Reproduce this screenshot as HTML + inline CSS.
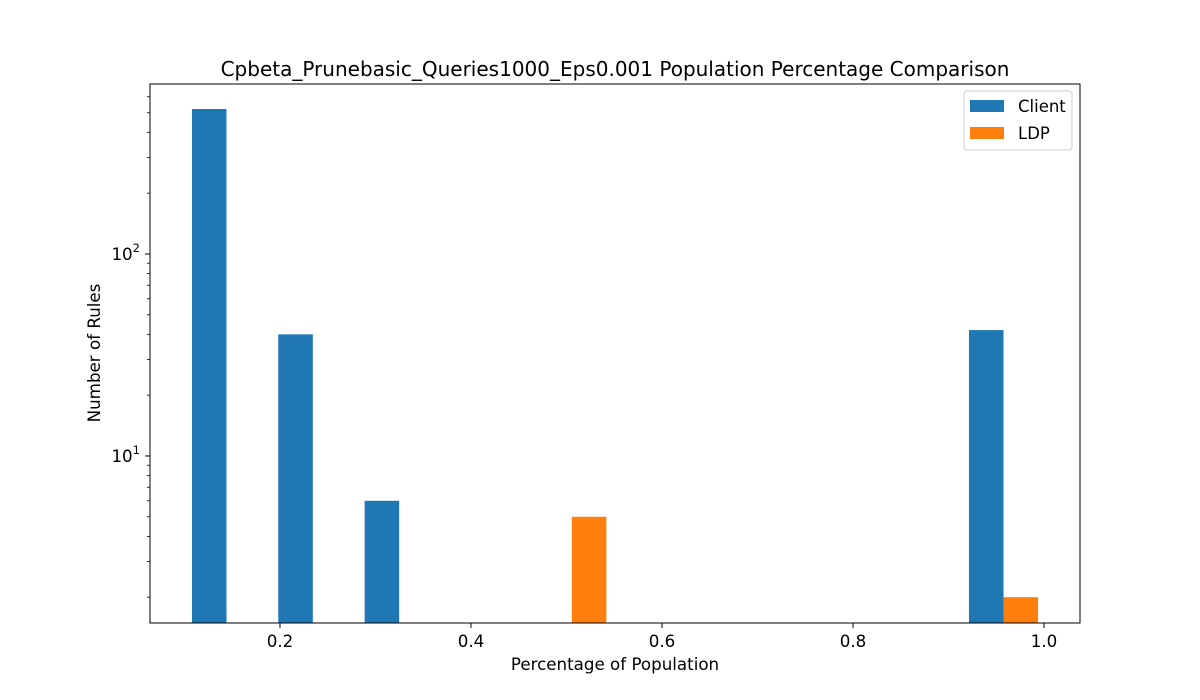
<!DOCTYPE html>
<html><head><meta charset="utf-8"><style>
body{margin:0;background:#fff;}
svg{display:block;font-family:"DejaVu Sans","Liberation Sans",sans-serif;}
</style></head><body>
<svg id="chart" width="1200" height="700">
<text x="615" y="76" text-anchor="middle" font-size="20" fill="#000">Cpbeta_Prunebasic_Queries1000_Eps0.001 Population Percentage Comparison</text>
<g id="bars"></g>
<g id="axes"></g>
<text x="615" y="670" text-anchor="middle" font-size="16.7">Percentage of Population</text>
<text x="100" y="353" text-anchor="middle" font-size="16.7" transform="rotate(-90 100 353)">Number of Rules</text>
<g>
<rect x="964" y="91" width="108" height="59" fill="#fff" stroke="#ccc" rx="3"/>
<g><rect x="970" y="100" width="34" height="12" fill="#1f77b4"/><text x="1018" y="112" font-size="16.5">Client</text></g>
<g><rect x="970" y="127" width="34" height="12" fill="#ff7f0e"/><text x="1018" y="139" font-size="16.5">LDP</text></g>
</g>
</svg>
<script>
const binStart = 0.0988;
const binWidth = 0.0904;
const clientCounts = [522, 40, 6, 0, 0, 0, 0, 0, 0, 42];
const ldpCounts = [0, 0, 0, 0, 5, 0, 0, 0, 0, 2];
const xTicks = [0.2, 0.4, 0.6, 0.8, 1.0];
const xTickLabels = ["0.2", "0.4", "0.6", "0.8", "1.0"];
const yMajor = [10, 100];

const L=150,R=1080,T=84,B=623;
const xMin=0.0639,xMax=1.0377;
const yMinLog=Math.log10(1.49),yMaxLog=Math.log10(694);
const X=v=>L+(v-xMin)/(xMax-xMin)*(R-L);
const Y=v=>B-(Math.log10(v)-yMinLog)/(yMaxLog-yMinLog)*(B-T);
const NS="http://www.w3.org/2000/svg";
function mk(tag,attrs,parent){const e=document.createElementNS(NS,tag);for(const k in attrs)e.setAttribute(k,attrs[k]);parent.appendChild(e);return e;}
const bars=document.getElementById('bars'),axes=document.getElementById('axes');
const bw=binWidth*0.4;
function drawSeries(arr,offset,color,name){
  arr.forEach((c,i)=>{
    if(c<=0)return;
    const x0=binStart+i*binWidth+binWidth*0.1+offset;
    const top=Y(c);
    const r=mk('rect',{x:X(x0),y:top,width:X(x0+bw)-X(x0),height:B-top,fill:color},bars);
    
    
  });
}
drawSeries(clientCounts,0,'#1f77b4','client');
drawSeries(ldpCounts,bw,'#ff7f0e','ldp');
const frame=mk('rect',{x:L,y:T,width:R-L,height:B-T,fill:'none',stroke:'#000','stroke-width':1},axes);


xTicks.forEach((v,i)=>{
  const x=X(v);
  mk('line',{x1:x,y1:B,x2:x,y2:B+5,stroke:'#000'},axes);
  const t=mk('text',{x:x,y:B+24,'text-anchor':'middle','font-size':16.7},axes);
  t.textContent=xTickLabels[i];
  
  
});
yMajor.forEach(v=>{
  const y=Y(v);
  mk('line',{x1:L-5,y1:y,x2:L,y2:y,stroke:'#000'},axes);
  const t=mk('text',{x:L-10,y:y+6,'text-anchor':'end','font-size':16.7},axes);
  t.innerHTML='10<tspan dy="-8" font-size="11.5">'+Math.round(Math.log10(v))+'</tspan>';
  
  
});
[1,10,100].forEach(d=>{for(let m=2;m<=9;m++){const v=d*m;const y=Y(v);if(y<T||y>B)continue;mk('line',{x1:L-3,y1:y,x2:L,y2:y,stroke:'#000','stroke-width':0.8},axes);}});
</script>
</body></html>
